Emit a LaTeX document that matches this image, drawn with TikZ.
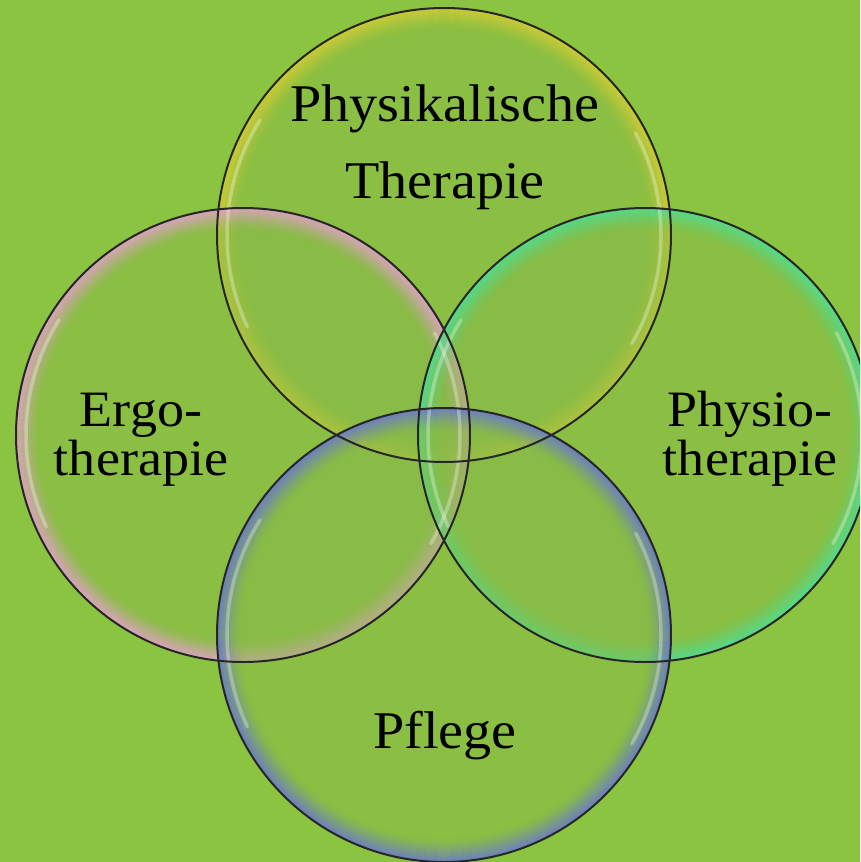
\documentclass[tikz,border=0pt]{standalone}
\usepackage{fontspec}
\setmainfont[FakeStretch=1.06]{Liberation Serif}
\usepackage{xcolor}
\usepackage{tikz}

\definecolor{bggreen}{HTML}{8BC440}
\definecolor{rimyellow}{HTML}{D2CC36}
\definecolor{rimpink}{HTML}{E2A0C8}
\definecolor{rimcyan}{HTML}{50DC90}
\definecolor{rimblue}{HTML}{6A78CC}

\tikzset{
  inside/.style={fill=bggreen!86!gray, fill opacity=0.45},
  rim/.style={draw=black!85, line width=2pt},
  glare/.style={draw=white, line width=3.5pt, opacity=0.3, line cap=round},
  lbl/.style={align=center, inner sep=0pt, text=black}
}

% one soap bubble: centre, rim colour
\newcommand{\bubblering}[2]{%
  \fill[inside] (#1) circle[radius=227pt];
  \foreach \k [evaluate=\k as \o using {0.8*(1-\k/24)^1.7}] in {0,...,23}
    \draw[#2, line width=1.3pt, opacity=\o] (#1) circle[radius={(226-\k)*1pt}];
}

\begin{document}
\begin{tikzpicture}[x=1pt,y=-1pt]
    \fill[bggreen] (0,0) rectangle (860,862);
    \useasboundingbox (0,0) rectangle (860,862);
    \clip (0,0) rectangle (860,862);
    % centres
    \coordinate (phys) at (444,235);
    \coordinate (ergo) at (243,435);
    \coordinate (physio) at (645,435);
    \coordinate (pflege) at (444,635);
    % bubbles
    \bubblering{phys}{rimyellow}
    \bubblering{ergo}{rimpink}
    \bubblering{physio}{rimcyan}
    \bubblering{pflege}{rimblue}
    % glare
    \foreach \c in {phys,ergo,physio,pflege}{
      \draw[glare] (\c) ++(148:217pt) arc[start angle=148,end angle=205,radius=217pt];
      \draw[glare] (\c) ++(-30:217pt) arc[start angle=-30,end angle=28,radius=217pt];
    }
    % outlines
    \foreach \c in {phys,ergo,physio,pflege}
      \draw[rim] (\c) circle[radius=227pt];
    % labels
    \node[lbl, font=\fontsize{53}{77}\selectfont] (physlabel) at (445,147) {Physikalische\\Therapie};
    \node[lbl, font=\fontsize{51}{49}\selectfont] (ergolabel) at (141,440) {Ergo-\\therapie};
    \node[lbl, font=\fontsize{51}{49}\selectfont] (physiolabel) at (750,439) {Physio-\\therapie};
    \node[lbl, font=\fontsize{53}{60}\selectfont] (pflegelabel) at (445,736) {Pflege};
\end{tikzpicture}
\end{document}
